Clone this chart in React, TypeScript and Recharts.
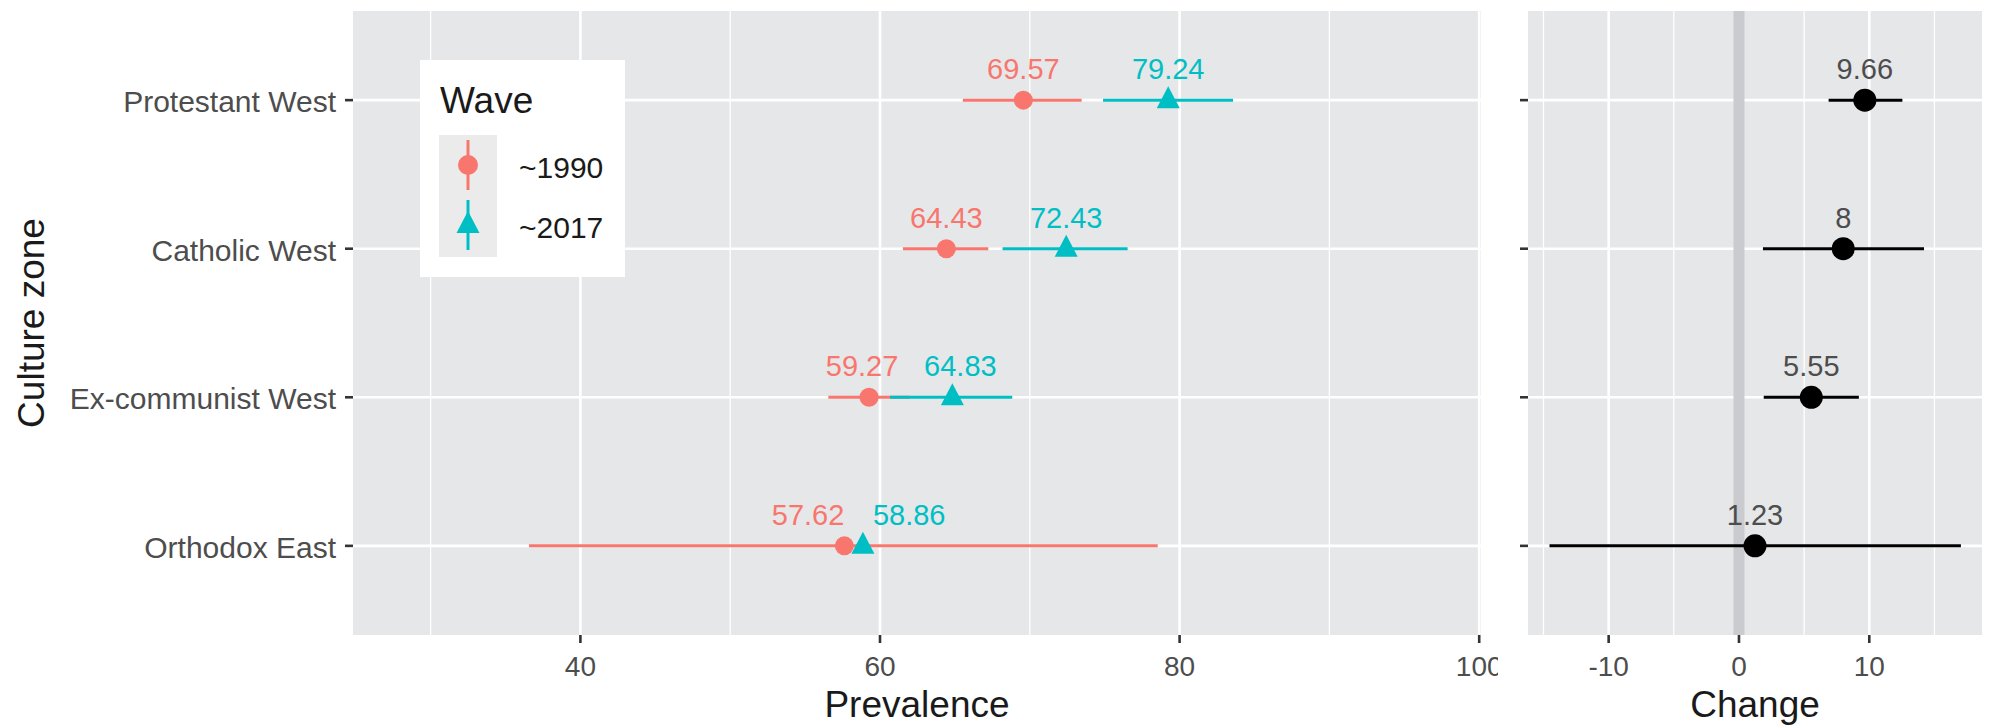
import React from 'react';
import {
  ScatterChart,
  Scatter,
  XAxis,
  YAxis,
  CartesianGrid,
  ErrorBar,
  ReferenceLine,
} from 'recharts';

// ---- data ----
const zones = ['Protestant West', 'Catholic West', 'Ex-communist West', 'Orthodox East'];
const waves = ['~1990', '~2017'];

const prev1990 = [69.57, 64.43, 59.27, 57.62];
const low1990 = [65.53, 61.53, 56.55, 36.57];
const high1990 = [73.46, 67.23, 61.99, 78.54];

const prev2017 = [79.24, 72.43, 64.83, 58.86];
const low2017: (number | null)[] = [74.89, 68.18, 60.67, null];
const high2017: (number | null)[] = [83.57, 76.53, 68.83, null];

const change = [9.66, 8, 5.55, 1.23];
const changeLow = [6.88, 1.84, 1.9, -14.54];
const changeHigh = [12.54, 14.2, 9.2, 17.03];

const prevTicks = [40, 60, 80, 100];
const prevMinor = [30, 50, 70, 90];
const changeTicks = [-10, 0, 10];
const changeMinor = [-15, -5, 5, 15];
const zoneTicks = [1, 2, 3, 4];

// ---- styling ----
const FONT = '"Liberation Sans", Arial, Helvetica, sans-serif';
const PANEL = '#E6E7E9';
const RED = '#F8766D';
const TEAL = '#00BFC4';
const TICK_TEXT = '#4D4D4D';
const TITLE_TEXT = '#1A1A1A';
const waveColors = [RED, TEAL];

// label anchoring per zone (keeps overlapping labels apart)
const place1990 = [
  { anchor: 'middle', dx: 0 },
  { anchor: 'middle', dx: 0 },
  { anchor: 'middle', dx: -7 },
  { anchor: 'end', dx: 0 },
];
const place2017 = [
  { anchor: 'middle', dx: 0 },
  { anchor: 'middle', dx: 0 },
  { anchor: 'middle', dx: 8 },
  { anchor: 'start', dx: 10 },
];

// ---- rows for the library ----
const rows1990 = zones.map((z, i) => ({
  i,
  zone: z,
  y: i + 1,
  x: prev1990[i],
  err: [prev1990[i] - low1990[i], high1990[i] - prev1990[i]],
}));
const rows2017 = zones.map((z, i) => ({
  i,
  zone: z,
  y: i + 1,
  x: prev2017[i],
  err:
    low2017[i] == null || high2017[i] == null
      ? null
      : [prev2017[i] - (low2017[i] as number), (high2017[i] as number) - prev2017[i]],
}));
const rows2017Ranges = rows2017.filter((r) => r.err != null);
const rowsChange = zones.map((z, i) => ({
  i,
  zone: z,
  y: i + 1,
  x: change[i],
  err: [change[i] - changeLow[i], changeHigh[i] - change[i]],
}));

// ---- shapes ----
const Empty = () => <g />;

const Dot = (color: string, r: number) => (p: any) =>
  p.cx == null ? <g /> : <circle cx={p.cx} cy={p.cy} r={r} fill={color} />;

const Tri = (color: string) => (p: any) =>
  p.cx == null ? (
    <g />
  ) : (
    <polygon
      points={`${p.cx},${p.cy - 14} ${p.cx - 11.5},${p.cy + 8} ${p.cx + 11.5},${p.cy + 8}`}
      fill={color}
    />
  );

const ValueText =
  (color: string, place?: { anchor: string; dx: number }[]) => (p: any) => {
    if (p.cx == null) return <g />;
    const idx = p.payload?.i ?? 0;
    const pl = place ? place[idx] : { anchor: 'middle', dx: 0 };
    return (
      <text
        x={p.cx + pl.dx}
        y={p.cy - 21}
        textAnchor={pl.anchor as any}
        fontSize={29}
        fontFamily={FONT}
        fill={color}
      >
        {String(p.payload.x)}
      </text>
    );
  };

// ---- axis ticks and titles ----
const ZoneTick = (p: any) => (
  <text x={p.x} y={p.y} dy={12} textAnchor="end" fontSize={30} fontFamily={FONT} fill={TICK_TEXT}>
    {zones[p.payload.value - 1]}
  </text>
);

const NumTick = (p: any) => (
  <text x={p.x} y={p.y} dy={33} textAnchor="middle" fontSize={28} fontFamily={FONT} fill={TICK_TEXT}>
    {String(p.payload.value)}
  </text>
);

const XTitle = (text: string) => (p: any) => {
  const vb = p.viewBox || {};
  return (
    <text
      x={(vb.x ?? 0) + (vb.width ?? 0) / 2}
      y={717}
      textAnchor="middle"
      fontSize={37}
      fontFamily={FONT}
      fill={TITLE_TEXT}
    >
      {text}
    </text>
  );
};

const YTitle = (p: any) => {
  const vb = p.viewBox || {};
  const cy = (vb.y ?? 11) + (vb.height ?? 624) / 2;
  return (
    <text
      x={44}
      y={cy}
      transform={`rotate(-90, 44, ${cy})`}
      textAnchor="middle"
      fontSize={37}
      fontFamily={FONT}
      fill={TITLE_TEXT}
    >
      Culture zone
    </text>
  );
};

const tickLineStyle = { stroke: '#333333', strokeWidth: 2.6 };

// ---- legend ----
const WaveLegend = () => (
  <div
    style={{
      position: 'absolute',
      left: 420,
      top: 60,
      width: 205,
      height: 217,
      background: '#ffffff',
    }}
  >
    <svg width={205} height={217}>
      <text x={20} y={53} fontSize={37} fontFamily={FONT} fill={TITLE_TEXT}>
        Wave
      </text>
      <rect x={19} y={75} width={58} height={122} fill="#EBEBEB" />
      {waves.map((w, k) => {
        const cy = 105 + k * 60;
        const color = waveColors[k];
        return (
          <g key={w}>
            <line x1={48} x2={48} y1={cy - 25} y2={cy + 25} stroke={color} strokeWidth={3} />
            {k === 0 ? (
              <circle cx={48} cy={cy} r={10} fill={color} />
            ) : (
              <polygon points={`48,${cy - 14} 36.5,${cy + 8} 59.5,${cy + 8}`} fill={color} />
            )}
            <text x={99} y={cy + 13} fontSize={30} fontFamily={FONT} fill={TITLE_TEXT}>
              {w}
            </text>
          </g>
        );
      })}
    </svg>
  </div>
);

// ---- charts ----
const PrevalencePanel = () => (
  <ScatterChart width={1498} height={728} margin={{ top: 11, right: 17, bottom: 0, left: 0 }}>
    <CartesianGrid fill={PANEL} stroke="#ffffff" strokeWidth={1.3} horizontal={false} verticalValues={prevMinor} />
    <CartesianGrid stroke="#ffffff" strokeWidth={2.6} horizontalValues={zoneTicks} verticalValues={prevTicks} />
    <XAxis
      type="number"
      dataKey="x"
      domain={[24.82, 100.12]}
      allowDataOverflow
      ticks={prevTicks}
      interval={0}
      height={93}
      tickSize={8}
      tickMargin={0}
      axisLine={false}
      tickLine={tickLineStyle}
      tick={<NumTick />}
      label={XTitle('Prevalence')}
    />
    <YAxis
      type="number"
      dataKey="y"
      domain={[0.4, 4.6]}
      reversed
      allowDataOverflow
      ticks={zoneTicks}
      interval={0}
      width={353}
      tickSize={8}
      tickMargin={9}
      axisLine={false}
      tickLine={tickLineStyle}
      tick={<ZoneTick />}
      label={YTitle}
    />
    {/* ranges first */}
    <Scatter data={rows1990} shape={Empty} isAnimationActive={false}>
      <ErrorBar dataKey="err" direction="x" width={0} stroke={RED} strokeWidth={3} isAnimationActive={false} />
    </Scatter>
    <Scatter data={rows2017Ranges} shape={Empty} isAnimationActive={false}>
      <ErrorBar dataKey="err" direction="x" width={0} stroke={TEAL} strokeWidth={3} isAnimationActive={false} />
    </Scatter>
    {/* points */}
    <Scatter data={rows1990} shape={Dot(RED, 9.5)} isAnimationActive={false} />
    <Scatter data={rows2017} shape={Tri(TEAL)} isAnimationActive={false} />
    {/* value labels */}
    <Scatter data={rows1990} shape={ValueText(RED, place1990)} isAnimationActive={false} />
    <Scatter data={rows2017} shape={ValueText(TEAL, place2017)} isAnimationActive={false} />
  </ScatterChart>
);

const ChangePanel = () => (
  <ScatterChart width={493} height={728} margin={{ top: 11, right: 9, bottom: 0, left: 0 }}>
    <CartesianGrid fill={PANEL} stroke="#ffffff" strokeWidth={1.3} horizontal={false} verticalValues={changeMinor} />
    <CartesianGrid stroke="#ffffff" strokeWidth={2.6} horizontalValues={zoneTicks} verticalValues={changeTicks} />
    <ReferenceLine x={0} stroke="#C9CBCE" strokeWidth={11} />
    <XAxis
      type="number"
      dataKey="x"
      domain={[-16.19, 18.65]}
      allowDataOverflow
      ticks={changeTicks}
      interval={0}
      height={93}
      tickSize={8}
      tickMargin={0}
      axisLine={false}
      tickLine={tickLineStyle}
      tick={<NumTick />}
      label={XTitle('Change')}
    />
    <YAxis
      type="number"
      dataKey="y"
      domain={[0.4, 4.6]}
      reversed
      allowDataOverflow
      ticks={zoneTicks}
      interval={0}
      width={30}
      tickSize={8}
      tickMargin={0}
      axisLine={false}
      tickLine={tickLineStyle}
      tick={Empty}
    />
    <Scatter data={rowsChange} shape={Empty} isAnimationActive={false}>
      <ErrorBar dataKey="err" direction="x" width={0} stroke="#000000" strokeWidth={3} isAnimationActive={false} />
    </Scatter>
    <Scatter data={rowsChange} shape={Dot('#000000', 11.5)} isAnimationActive={false} />
    <Scatter data={rowsChange} shape={ValueText(TICK_TEXT)} isAnimationActive={false} />
  </ScatterChart>
);

export default function App() {
  return (
    <div
      style={{
        position: 'absolute',
        left: 0,
        top: 0,
        width: 1991,
        height: 728,
        background: '#ffffff',
        overflow: 'hidden',
        fontFamily: FONT,
      }}
    >
      <div style={{ position: 'absolute', left: 0, top: 0 }}>
        <PrevalencePanel />
      </div>
      <div style={{ position: 'absolute', left: 1498, top: 0, background: '#ffffff' }}>
        <ChangePanel />
      </div>
      <WaveLegend />
    </div>
  );
}
